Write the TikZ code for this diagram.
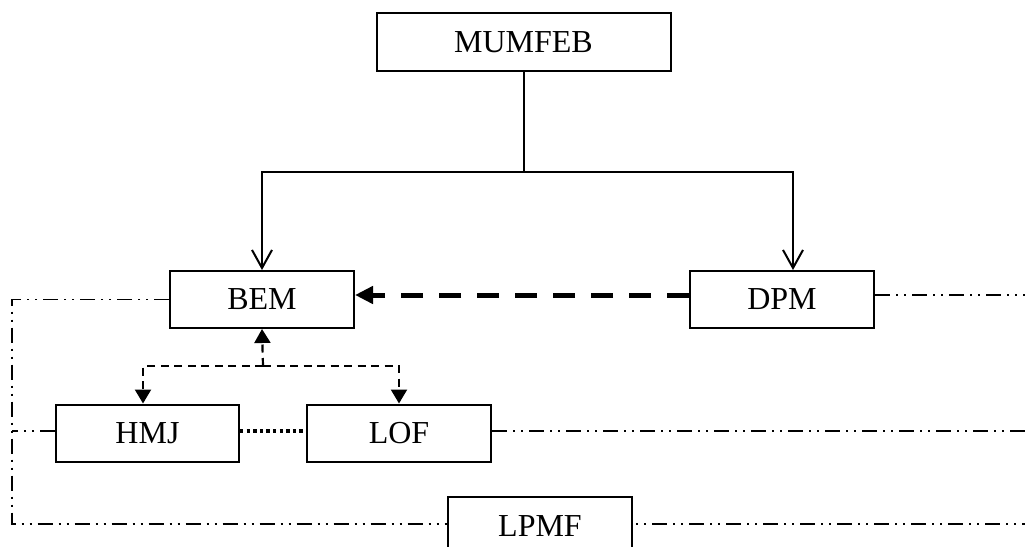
\documentclass[tikz,border=0pt]{standalone}
\usepackage{fontspec}
\setmainfont{Liberation Serif}
\usetikzlibrary{arrows.meta,positioning}
\begin{document}
\begin{tikzpicture}[x=0.5pt,y=-0.5pt,
  box/.style={draw,line width=1pt,inner sep=0pt,minimum height=28.5pt,minimum width=92pt,
    font=\fontsize{16}{19}\selectfont},
  openarrow/.style={line width=1pt,-{Straight Barb[length=9pt,width=10pt,line width=1pt]}},
  thickdash/.style={line width=2.5pt,dash pattern=on 11pt off 8pt,-{Triangle[length=9pt,width=8.5pt]}},
  smalldash/.style={line width=1.1pt,dash pattern=on 4pt off 2.75pt,-{Triangle[length=7pt,width=8pt]}},
  dotline/.style={line width=2pt,dash pattern=on 1.7pt off 1.6pt},
  dashdotdot/.style={line width=0.8pt,dash pattern=on 7.5pt off 3pt on 1pt off 3pt on 1pt off 3pt}
]
\useasboundingbox (0,0) rectangle (1025,547);
\clip (0,0) rectangle (1025,547);
\node[box,minimum width=147pt,minimum height=29pt] (mum) at (523.5,42) {MUMFEB};
\node[box] (bem) at (262,299.5) {BEM};
\node[box] (dpm) at (782,299.5) {DPM};
\node[box,minimum width=91.5pt] (hmj) at (147.5,433) {HMJ};
\node[box] (lof) at (399,433) {LOF};
\node[box,minimum height=29pt] (lpmf) at (540,526) {LPMF};
% tree connectors
\coordinate (j) at (523.5,172);
\draw[line width=1pt] (mum.south) -- (j);
\draw[openarrow] (j) -| (bem.north);
\draw[openarrow] (j) -| ([xshift=5.5pt]dpm.north);
% thick dashed
\draw[thickdash] ([yshift=2.25pt]dpm.west) -- ([yshift=2.25pt]bem.east);
% small dashed arrows
\coordinate (m) at (263,366);
\draw[smalldash] (m) -- (bem.south);
\draw[smalldash] (m) -| ([xshift=-2.25pt]hmj.north);
\draw[smalldash] (m) -| (lof.north);
% dotted
\draw[dotline] ([yshift=1pt]hmj.east) -- ([yshift=1pt]lof.west);
% dash-dot-dot lines
\coordinate (c1) at (12,300);
\coordinate (c2) at (12,524);
\draw[dashdotdot] (bem.west) -- (bem.west -| c1) -- (c2) -- (c2 -| lpmf.west);
\draw[dashdotdot] ([yshift=1pt]hmj.west) -- ([yshift=1pt]hmj.west -| c1);
\coordinate (e1) at (1025,295);
\coordinate (e2) at (1025,431);
\coordinate (e3) at (1025,524);
\draw[dashdotdot] ([yshift=2.25pt]dpm.east) -- (e1);
\draw[dashdotdot] (lof.east |- e2) -- (e2);
\draw[dashdotdot,dash phase=9pt] (lpmf.east |- e3) -- (e3);
\end{tikzpicture}
\end{document}
